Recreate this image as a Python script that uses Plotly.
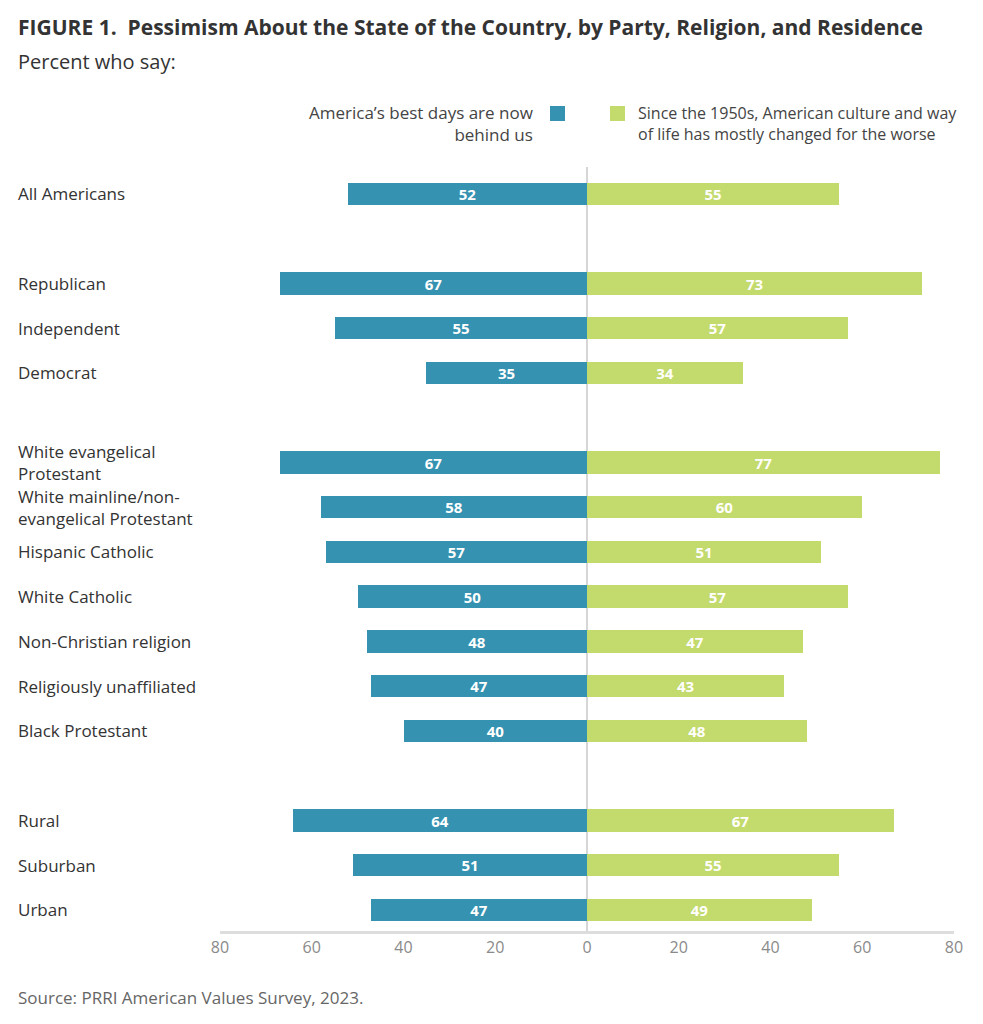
import plotly.graph_objects as go

categories = ["All Americans", "Republican", "Independent", "Democrat",
              "White evangelical<br>Protestant", "White mainline/non-<br>evangelical Protestant",
              "Hispanic Catholic", "White Catholic", "Non-Christian religion",
              "Religiously unaffiliated", "Black Protestant", "Rural", "Suburban", "Urban"]
row_pos = [0, 2, 3, 4, 6, 7, 8, 9, 10, 11, 12, 14, 15, 16]
best_days_behind = [52, 67, 55, 35, 67, 58, 57, 50, 48, 47, 40, 64, 51, 47]
changed_for_worse = [55, 73, 57, 34, 77, 60, 51, 57, 47, 43, 48, 67, 55, 49]
tick_vals = [-80, -60, -40, -20, 0, 20, 40, 60, 80]
tick_text = ["80", "60", "40", "20", "0", "20", "40", "60", "80"]

BLUE = "#3592b1"
GREEN = "#c3da6d"
FONT = "Open Sans"

W, H = 983, 1024
OFF = 8  # page offset
PL, PR, PT, PB = 220 - OFF, 954 - OFF, 167 - OFF, 931 - OFF
PW, PH = PR - PL, PB - PT
LX = 16


def paper_x(px):
    return (px - OFF - PL) / PW


def paper_y(py):
    return (PB - (py - OFF)) / PH


fig = go.Figure()
for vals, sign, color in [(best_days_behind, -1, BLUE), (changed_for_worse, 1, GREEN)]:
    fig.add_trace(go.Bar(
        y=row_pos, x=[sign * v for v in vals], orientation="h",
        marker=dict(color=color, line=dict(width=0)), width=0.5,
        text=[str(v) for v in vals], textposition="inside",
        insidetextanchor="middle", textangle=0, constraintext="none",
        textfont=dict(family=FONT, size=15, color="white", weight="bold"),
        hoverinfo="skip", showlegend=False))

annotations = []
for cat, pos in zip(categories, row_pos):
    annotations.append(dict(
        text=cat, xref="paper", yref="y", x=paper_x(LX), y=pos,
        xanchor="left", yanchor="middle", align="left", showarrow=False,
        font=dict(family=FONT, size=17, color="#333333")))

fig.update_layout(
    width=W, height=H,
    margin=dict(l=PL, r=W - PR, t=PT, b=H - PB),
    paper_bgcolor="white", plot_bgcolor="white",
    barmode="overlay", bargap=0,
    font=dict(family=FONT),
    xaxis=dict(range=[-80, 80], tickvals=tick_vals, ticktext=tick_text,
               showgrid=False, zeroline=True, zerolinecolor="#d6d6d6", zerolinewidth=2,
               showline=True, linecolor="#dddddd", linewidth=3, ticks="",
               tickfont=dict(family=FONT, size=16, color="#8a8a8a"),
               layer="above traces", fixedrange=True),
    yaxis=dict(range=[16.47, -0.6], showticklabels=False, showgrid=False,
               zeroline=False, showline=False, fixedrange=True),
    annotations=annotations,
)

fig.add_annotation(text="<b>FIGURE 1.  Pessimism About the State of the Country, by Party, Religion, and Residence</b>",
                   xref="paper", yref="paper", x=paper_x(LX), y=paper_y(27),
                   xanchor="left", yanchor="middle", showarrow=False,
                   font=dict(family=FONT, size=21, color="#333333"))
fig.add_annotation(text="Percent who say:",
                   xref="paper", yref="paper", x=paper_x(LX), y=paper_y(61),
                   xanchor="left", yanchor="middle", showarrow=False,
                   font=dict(family=FONT, size=20, color="#333333"))
fig.add_annotation(text="Source: PRRI American Values Survey, 2023.",
                   xref="paper", yref="paper", x=paper_x(LX), y=paper_y(997),
                   xanchor="left", yanchor="middle", showarrow=False,
                   font=dict(family=FONT, size=17, color="#666666"))

# Legend
fig.add_annotation(text="America’s best days are now<br>behind us",
                   xref="paper", yref="paper", x=paper_x(535), y=paper_y(124),
                   xanchor="right", yanchor="middle", align="right", showarrow=False,
                   font=dict(family=FONT, size=17, color="#444444"))
fig.add_annotation(text="Since the 1950s, American culture and way<br>of life has mostly changed for the worse",
                   xref="paper", yref="paper", x=paper_x(636), y=paper_y(124),
                   xanchor="left", yanchor="middle", align="left", showarrow=False,
                   font=dict(family=FONT, size=16, color="#444444"))
fig.add_shape(type="rect", xref="paper", yref="paper",
              x0=paper_x(550), x1=paper_x(565), y0=paper_y(121), y1=paper_y(106),
              fillcolor=BLUE, line=dict(width=0))
fig.add_shape(type="rect", xref="paper", yref="paper",
              x0=paper_x(610), x1=paper_x(625), y0=paper_y(121), y1=paper_y(106),
              fillcolor=GREEN, line=dict(width=0))

fig.write_html("out.html")
